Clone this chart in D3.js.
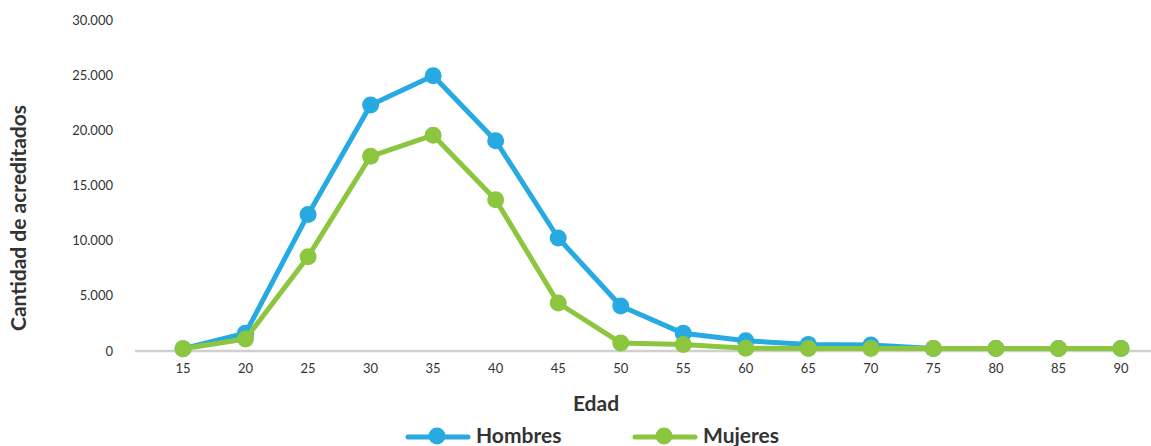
<!DOCTYPE html>
<html>
<head>
<meta charset="utf-8">
<script src="https://cdn.jsdelivr.net/npm/d3@7/dist/d3.min.js"></script>
<style>
  html, body { margin: 0; padding: 0; background: #fff; }
  svg { display: block; font-family: Lato, "Open Sans", sans-serif; }
</style>
</head>
<body>
<svg id="chart" width="1151" height="446"></svg>
<script>
// Age groups (years)
const edades = [15, 20, 25, 30, 35, 40, 45, 50, 55, 60, 65, 70, 75, 80, 85, 90];
// Accredited people per age group
const hombres = [200, 1620, 12380, 22300, 24950, 19060, 10240, 4080, 1600, 930, 600, 550, 220, 220, 220, 220];
const mujeres = [200, 1090, 8550, 17650, 19560, 13700, 4350, 730, 580, 250, 220, 220, 220, 220, 220, 220];
const yTicks = [0, 5000, 10000, 15000, 20000, 25000, 30000];

const series = [
  { name: "Hombres", values: hombres, color: "#27aae1" },
  { name: "Mujeres", values: mujeres, color: "#8cc63f" }
];

const svg = d3.select("#chart");

const x = d3.scalePoint()
  .domain(edades)
  .range([183, 1121]);

const y = d3.scaleLinear()
  .domain([0, 30000])
  .range([351, 20]);

const fmt = d3.formatLocale({ decimal: ",", thousands: ".", grouping: [3], currency: ["", ""] }).format(",d");

// Y tick labels (no grid lines)
svg.append("g")
  .selectAll("text")
  .data(yTicks)
  .join("text")
  .attr("x", 113)
  .attr("y", d => y(d))
  .attr("dy", "0.35em")
  .attr("text-anchor", "end")
  .attr("font-size", 13)
  .attr("fill", "#333")
  .text(d => fmt(d));

// Baseline
svg.append("line")
  .attr("x1", 135).attr("x2", 1151)
  .attr("y1", y(0)).attr("y2", y(0))
  .attr("stroke", "#d0d0d0")
  .attr("stroke-width", 2.5);

// X tick labels
svg.append("g")
  .selectAll("text")
  .data(edades)
  .join("text")
  .attr("x", d => x(d))
  .attr("y", 373)
  .attr("text-anchor", "middle")
  .attr("font-size", 13)
  .attr("fill", "#333")
  .text(d => d);

// Axis titles
svg.append("text")
  .attr("transform", "translate(26,218) rotate(-90)")
  .attr("text-anchor", "middle")
  .attr("font-size", 21)
  .attr("font-weight", "bold")
  .attr("fill", "#333")
  .text("Cantidad de acreditados");

svg.append("text")
  .attr("x", 596)
  .attr("y", 411)
  .attr("text-anchor", "middle")
  .attr("font-size", 21)
  .attr("font-weight", "bold")
  .attr("fill", "#333")
  .text("Edad");

// Lines and markers
const line = d3.line()
  .x((d, i) => x(edades[i]))
  .y(d => y(d));

series.forEach(s => {
  const g = svg.append("g");
  g.append("path")
    .attr("d", line(s.values))
    .attr("fill", "none")
    .attr("stroke", s.color)
    .attr("stroke-width", 5)
    .attr("stroke-linejoin", "round");
  g.selectAll("circle")
    .data(s.values)
    .join("circle")
    .attr("cx", (d, i) => x(edades[i]))
    .attr("cy", d => y(d))
    .attr("r", 8.5)
    .attr("fill", s.color);
});

// Legend
const legendItems = [
  { s: series[0], x0: 408, tx: 476 },
  { s: series[1], x0: 635, tx: 703 }
];
legendItems.forEach(it => {
  const g = svg.append("g");
  g.append("line")
    .attr("x1", it.x0).attr("x2", it.x0 + 60)
    .attr("y1", 437).attr("y2", 437)
    .attr("stroke", it.s.color)
    .attr("stroke-width", 5)
    .attr("stroke-linecap", "round");
  g.append("circle")
    .attr("cx", it.x0 + 29).attr("cy", 436)
    .attr("r", 8.5)
    .attr("fill", it.s.color);
  g.append("text")
    .attr("x", it.tx).attr("y", 443)
    .attr("font-size", 21)
    .attr("font-weight", "bold")
    .attr("fill", "#333")
    .text(it.s.name);
});
</script>
</body>
</html>
